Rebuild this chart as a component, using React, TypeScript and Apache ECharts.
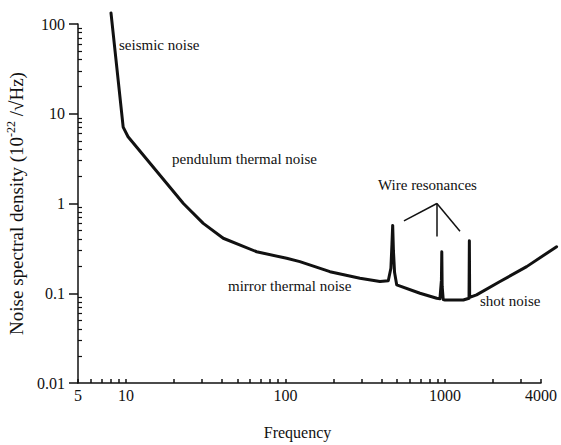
import React, { useEffect, useRef } from "react";
import * as echarts from "echarts";

// Noise curve: [frequency (Hz), noise spectral density (1e-22 /sqrt(Hz))]
const noiseCurve: [number, number][] = [
  [8.05, 133], [9.6, 7.1], [10.3, 5.55], [22.9, 1.0], [30.5, 0.6],
  [40.7, 0.41], [65.9, 0.29], [101.7, 0.245], [123, 0.225], [190, 0.174],
  [293, 0.147], [391, 0.135], [441, 0.138], [458, 0.19], [465, 0.35], [470, 0.57],
  [475, 0.3], [483, 0.17], [498, 0.124], [697, 0.1], [888, 0.088], [930, 0.087],
  [950, 0.14], [955, 0.29], [960, 0.12], [975, 0.085], [1000, 0.084], [1303, 0.084],
  [1415, 0.088], [1422, 0.385], [1428, 0.09], [1578, 0.096], [2213, 0.135],
  [3252, 0.198], [5012, 0.33],
];

const xLabelValues = [5, 10, 100, 1000, 4000];
const xTickValues = [
  5, 6, 7, 8, 9, 10, 20, 30, 40, 50, 60, 70, 80, 90, 100,
  200, 300, 400, 500, 600, 700, 800, 900, 1000, 2000, 3000, 4000,
];
const yLabelValues = [0.01, 0.1, 1, 10, 100];
const yMinorTicks = [
  0.02, 0.03, 0.04, 0.05, 0.06, 0.07, 0.08, 0.09,
  0.2, 0.3, 0.4, 0.5, 0.6, 0.7, 0.8, 0.9,
  2, 3, 4, 5, 6, 7, 8, 9,
  20, 30, 40, 50, 60, 70, 80, 90,
];

// "Wire resonances" pointer lines, in data coordinates
const wireApex: [number, number] = [890, 1.0];
const wireEnds: [number, number][] = [[553, 0.64], [890, 0.43], [1242, 0.49]];

const noteTexts = ["seismic noise", "pendulum thermal noise", "Wire resonances", "mirror thermal noise", "shot noise"];
const notePositions: [number, number][] = [[119, 45], [172, 159], [378, 185], [228, 286], [480, 301]];

const FONT = "'Liberation Serif', 'Times New Roman', serif";
const INK = "#111";

export default function App() {
  const ref = useRef<HTMLDivElement>(null);

  useEffect(() => {
    if (!ref.current) return;
    const chart = echarts.init(ref.current, undefined, { renderer: "svg" });

    const axisFont = { fontFamily: FONT, fontSize: 16, color: INK };

    chart.setOption({
      animation: false,
      backgroundColor: "#fff",
      grid: { left: 78, right: 20, top: 24, bottom: 62, containLabel: false, outerBoundsMode: "none" },
      xAxis: [
        {
          type: "log",
          logBase: 10,
          min: 5,
          max: 4000,
          name: "Frequency",
          nameLocation: "middle",
          nameGap: 41,
          nameTextStyle: { fontFamily: FONT, fontSize: 16, color: INK, padding: [0, 24, 0, 0] },
          axisLine: { show: true, lineStyle: { color: INK, width: 1.5 } },
          axisTick: { show: true, inside: true, length: 4, lineStyle: { color: INK, width: 1.5 }, customValues: xTickValues },
          axisLabel: { ...axisFont, margin: 4, customValues: xLabelValues, formatter: (v: number) => String(Math.round(v)) },
          splitLine: { show: false },
          minorTick: { show: false },
        },
      ],
      yAxis: [
        {
          type: "log",
          logBase: 10,
          min: 0.01,
          max: 100,
          name: "{a|Noise spectral density (10}{s|-22}{a| /√Hz)}",
          nameLocation: "middle",
          nameGap: 38,
          nameTextStyle: {
            rich: {
              a: { fontFamily: FONT, fontSize: 19, color: INK, verticalAlign: "bottom", lineHeight: 22 },
              s: { fontFamily: FONT, fontSize: 12, color: INK, verticalAlign: "bottom", lineHeight: 22, padding: [0, 0, 9, 0] },
            },
          },
          axisLine: { show: true, lineStyle: { color: INK, width: 1.5 } },
          axisTick: { show: true, inside: false, length: 9, lineStyle: { color: INK, width: 1.5 }, customValues: yLabelValues },
          axisLabel: { ...axisFont, margin: 13, customValues: yLabelValues, formatter: (v: number) => String(v) },
          splitLine: { show: false },
        },
        {
          type: "log",
          logBase: 10,
          min: 0.01,
          max: 100,
          position: "left",
          axisLine: { show: false },
          axisTick: { show: true, inside: true, length: 4, lineStyle: { color: INK, width: 1.2 }, customValues: yMinorTicks },
          axisLabel: { show: false },
          splitLine: { show: false },
        },
      ],
      series: [
        {
          // The noise curve: one polyline through every point, placed by the axes' scales,
          // not clipped so it may run past the 4000 Hz end and above 100 as in the original.
          type: "custom",
          xAxisIndex: 0,
          yAxisIndex: 0,
          clip: false,
          silent: true,
          data: noiseCurve,
          encode: { x: 0, y: 1 },
          renderItem: (params: any, api: any) => {
            if (params.dataIndex !== 0) return { type: "group", children: [] };
            const pts = noiseCurve.map((p) => api.coord(p));
            return {
              type: "polyline",
              shape: { points: pts },
              style: { stroke: INK, lineWidth: 3, fill: null, lineJoin: "round", lineCap: "round" },
            };
          },
        },
        {
          type: "line",
          xAxisIndex: 0,
          yAxisIndex: 0,
          data: [],
          showSymbol: false,
          markLine: {
            silent: true,
            symbol: ["none", "none"],
            label: { show: false },
            lineStyle: { color: INK, width: 1.5, type: "solid" },
            data: wireEnds.map((e) => [{ coord: wireApex }, { coord: e }]),
          },
        },
      ],
      graphic: noteTexts.map((t, i) => ({
        type: "text",
        x: notePositions[i][0],
        y: notePositions[i][1],
        style: { text: t, fill: INK, font: `15px ${FONT}`, align: "left", verticalAlign: "middle" },
      })),
    });

    return () => chart.dispose();
  }, []);

  return <div ref={ref} style={{ position: "fixed", left: 0, top: 0, width: 561, height: 445 }} />;
}
